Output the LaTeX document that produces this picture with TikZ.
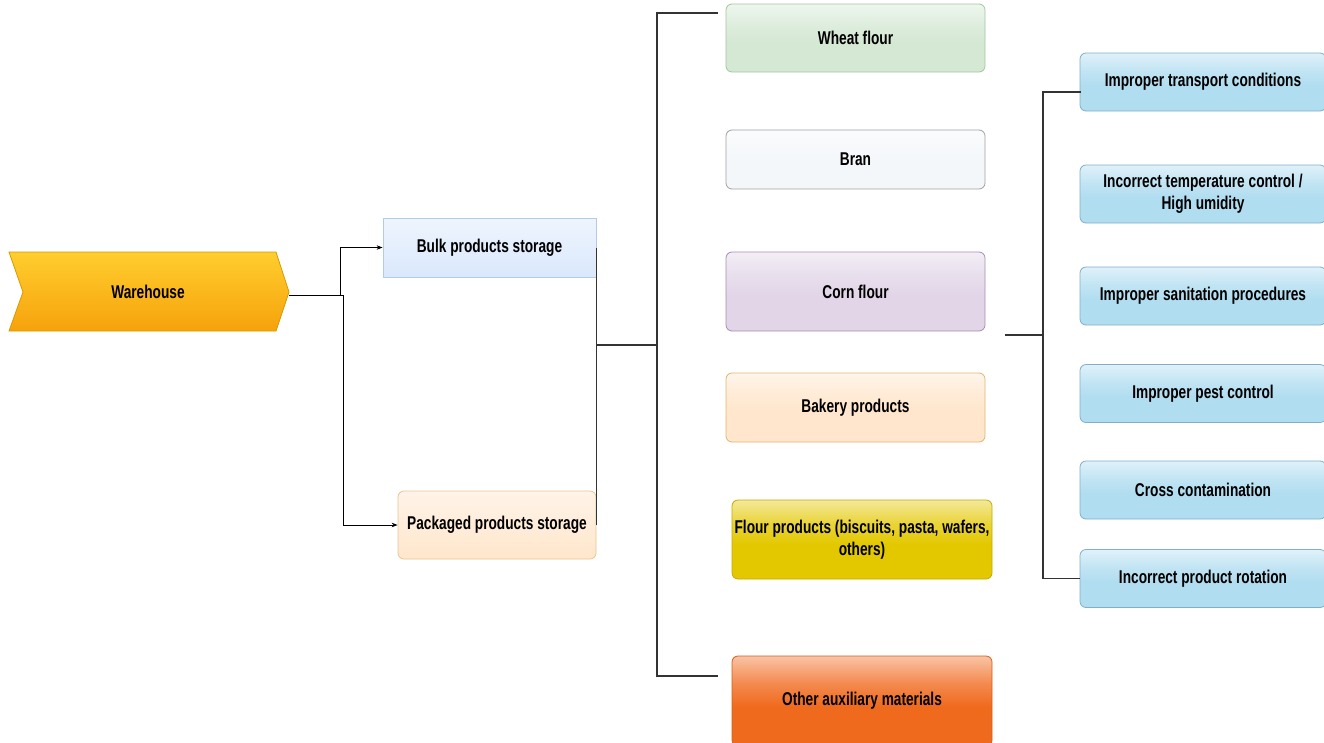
\documentclass[tikz,border=0pt]{standalone}
\usepackage{fontspec}
\setmainfont{Liberation Sans}[FakeStretch=0.74]
\usetikzlibrary{arrows.meta,calc}

% palette
\definecolor{whTop}{HTML}{FFCE2E}
\definecolor{whBot}{HTML}{F6A20C}
\definecolor{whLine}{HTML}{D99A00}
\definecolor{bulkC}{HTML}{DAE8FC}
\definecolor{bulkL}{HTML}{B4CBE8}
\definecolor{packC}{HTML}{FFE6CC}
\definecolor{packL}{HTML}{E8C590}
\definecolor{wheatC}{HTML}{D5E8D4}
\definecolor{wheatL}{HTML}{9FC79B}
\definecolor{branC}{HTML}{F4F7FA}
\definecolor{branL}{HTML}{A0A0A0}
\definecolor{cornC}{HTML}{E1D5E7}
\definecolor{cornL}{HTML}{A88BB5}
\definecolor{bakeC}{HTML}{FFE6CC}
\definecolor{bakeL}{HTML}{E1B570}
\definecolor{flourC}{HTML}{E3C800}
\definecolor{flourL}{HTML}{C4AA00}
\definecolor{otherC}{HTML}{F06A1E}
\definecolor{otherL}{HTML}{D55E18}
\definecolor{causeC}{HTML}{B1DDF0}
\definecolor{causeL}{HTML}{7FAFCB}
\definecolor{wire}{HTML}{333333}
\colorlet{glossbase}{causeC}

% glossy fill: pale upper band fading into the base colour
\pgfdeclareverticalshading[glossbase]{gloss}{100bp}{%
  color(0bp)=(glossbase); color(25bp)=(glossbase); color(47bp)=(glossbase);
  color(60bp)=(glossbase!78!white); color(75bp)=(glossbase!40!white);
  color(100bp)=(glossbase!40!white)}

\begin{document}
\begin{tikzpicture}[x=1pt,y=-1pt,
  lbl/.style={font=\fontsize{18.5}{22}\selectfont\bfseries, text=black, align=center},
  box/.style={lbl, rectangle, inner sep=0pt, line width=0.8pt},
  glass/.style={/utils/exec={\colorlet{glossbase}{#1}}, shading=gloss},
  flat/.style={top color=#1!45!white, bottom color=#1},
  bracket/.style={draw=wire, line width=1.6pt},
  feed/.style={draw=black, line width=0.8pt, -{Stealth[length=6pt,width=4.5pt]}},
  link/.style={draw=wire, line width=1pt}
]
\useasboundingbox (0,0) rectangle (1324,742);
\clip (0,0) rectangle (1324,742);

% warehouse chevron
\shade[top color=whTop, bottom color=whBot, draw=whLine, line width=0.8pt]
  (9,252) -- (276,252) -- (289,292) -- (276,331) -- (9,331) -- (23,292) -- cycle;
\node[lbl] (wh) at (148,292) {Warehouse};
\coordinate (whtip) at (289,295);

% storage types
\node[box, flat=bulkC, draw=bulkL, minimum width=213pt, minimum height=59pt]
  (bulk) at (489.5,247.5) {Bulk products storage};
\node[box, flat=packC, draw=packL, rounded corners=6pt, minimum width=198pt, minimum height=68pt]
  (pack) at (497,525) {Packaged products storage};

% product groups
\node[box, glass=wheatC, draw=wheatL, rounded corners=6pt, minimum width=259pt, minimum height=68pt]
  (wheat) at (855.5,38) {Wheat flour};
\node[box, glass=branC, draw=branL, rounded corners=6pt, minimum width=259pt, minimum height=59pt]
  (bran) at (855.5,159.5) {Bran};
\node[box, glass=cornC, draw=cornL, rounded corners=6pt, minimum width=259pt, minimum height=79pt]
  (corn) at (855.5,291.5) {Corn flour};
\node[box, glass=bakeC, draw=bakeL, rounded corners=6pt, minimum width=259pt, minimum height=69pt]
  (bake) at (855.5,407.5) {Bakery products};
\node[box, glass=flourC, draw=flourL, rounded corners=6pt, minimum width=260pt, minimum height=79pt]
  (flour) at (862,539.5) {Flour products (biscuits, pasta, wafers,\\others)};
\node[box, glass=otherC, draw=otherL, rounded corners=6pt, minimum width=260pt, minimum height=90pt]
  (other) at (862,701) {Other auxiliary materials};

% causes
\foreach \n/\y/\t in {
  c1/82/{Improper transport conditions},
  c2/194/{Incorrect temperature control /\\High umidity},
  c3/296/{Improper sanitation procedures},
  c4/393.5/{Improper pest control},
  c5/490/{Cross contamination},
  c6/578.5/{Incorrect product rotation}}{
  \node[box, glass=causeC, draw=causeL, rounded corners=6pt, minimum width=246pt, minimum height=58pt]
    (\n) at (1203,\y) {\t};
}

% warehouse feeds
\draw[feed] (whtip) -- (340,295) |- (bulk.west);
\draw[feed] (whtip) -- (343,295) |- (pack.west);

% storage to product groups
\coordinate (j1) at (657,345);
\coordinate (tTop) at (718,13);
\coordinate (tBot) at (718,676);
\draw[link] (bulk.east) |- (j1);
\draw[link] (pack.east) |- (j1);
\draw[bracket] (596,345) -- (j1);
\draw[bracket] (tTop) -- (657,13) -- (657,676) -- (tBot);

% product groups to causes
\coordinate (j2) at (1005,335);
\coordinate (uTop) at (1081,92);
\draw[bracket] (j2) -- (1043,335);
\draw[bracket] (uTop) -- (1043,92) -- (1043,578.5) -- (c6.west);
\end{tikzpicture}
\end{document}
